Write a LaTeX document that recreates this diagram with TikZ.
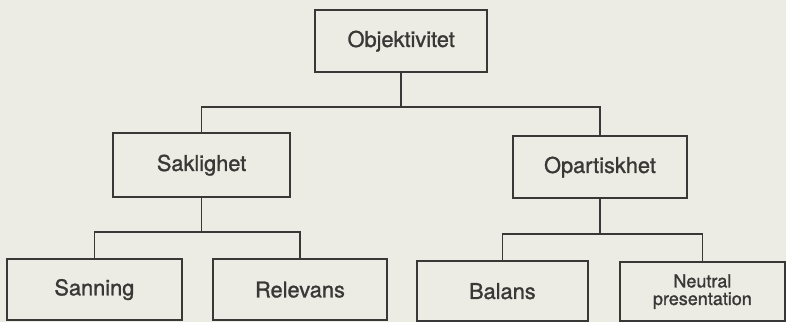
\documentclass[tikz,border=0pt]{standalone}
\usepackage{fontspec}
\setmainfont{TeX Gyre Heros}[FakeBold=1.2]
\definecolor{paper}{HTML}{EDECE4}
\definecolor{ink}{HTML}{383836}
\begin{document}
\begin{tikzpicture}[
  box/.style={draw=ink, line width=1.2pt, text=ink, minimum width=#1, minimum height=1.55cm,
    inner sep=0pt, align=center, font=\fontsize{15.5}{16}\selectfont},
  link/.style={draw=ink, line width=1.2pt}]
  \fill [paper] (0,0) rectangle (19.65,-8.05);
  \useasboundingbox (0,0) rectangle (19.65,-8.05);
  \node[box=4.3cm] (obj) at (10.03,-1.03) {Objektivitet};
  \node[box=4.43cm, minimum height=1.6cm] (sak) at (5.04,-4.13) {Saklighet};
  \node[box=4.35cm] (opa) at (15.0,-4.18) {Opartiskhet};
  \node[box=4.38cm, minimum height=1.53cm] (san) at (2.36,-7.24) {Sanning};
  \node[box=4.35cm, minimum height=1.53cm] (rel) at (7.5,-7.24) {Relevans};
  \node[box=4.28cm, minimum height=1.5cm] (bal) at (12.56,-7.28) {Balans};
  \node[box=4.12cm, minimum height=1.48cm, font=\fontsize{12.8}{12.5}\selectfont] (neu) at (17.56,-7.29) {Neutral\\presentation};
  \draw[link] (obj.south) -- ++(0,-0.85) coordinate (j1);
  \draw[link] (j1) -| (sak.north);
  \draw[link] (j1) -| (opa.north);
  \draw[link] (sak.south) -- ++(0,-0.85) coordinate (j2);
  \draw[link] (j2) -| (san.north);
  \draw[link] (j2) -| (rel.north);
  \draw[link] (opa.south) -- ++(0,-0.88) coordinate (j3);
  \draw[link] (j3) -| (bal.north);
  \draw[link] (j3) -| (neu.north);
\end{tikzpicture}
\end{document}
